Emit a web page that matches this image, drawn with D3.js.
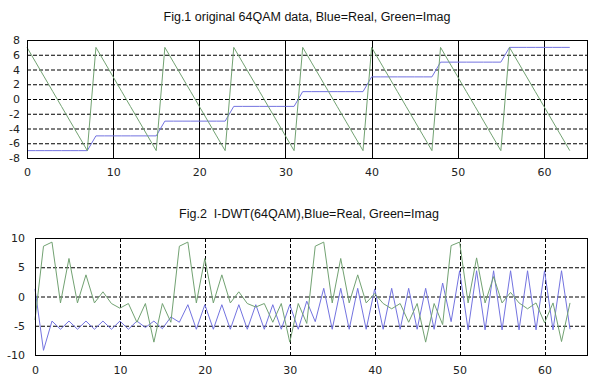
<!DOCTYPE html>
<html>
<head>
<meta charset="utf-8">
<script src="https://cdn.jsdelivr.net/npm/d3@7"></script>
<style>
body { margin: 0; background: #fff; }
</style>
</head>
<body>
<div id="chart"></div>
<script>
// data
var idx = d3.range(64);

var realQam = [-7,-7,-7,-7,-7,-7,-7,-7, -5,-5,-5,-5,-5,-5,-5,-5,
               -3,-3,-3,-3,-3,-3,-3,-3, -1,-1,-1,-1,-1,-1,-1,-1,
                1, 1, 1, 1, 1, 1, 1, 1,  3, 3, 3, 3, 3, 3, 3, 3,
                5, 5, 5, 5, 5, 5, 5, 5,  7, 7, 7, 7, 7, 7, 7, 7];
var imagQam = [7,5,3,1,-1,-3,-5,-7, 7,5,3,1,-1,-3,-5,-7,
               7,5,3,1,-1,-3,-5,-7, 7,5,3,1,-1,-3,-5,-7,
               7,5,3,1,-1,-3,-5,-7, 7,5,3,1,-1,-3,-5,-7,
               7,5,3,1,-1,-3,-5,-7, 7,5,3,1,-1,-3,-5,-7];

var realDwt = [1.3,-9.2,-4.2,-5.6,-4.2,-5.6,-4.2,-5.6,-4.2,-5.6,-4.2,-5.6,-4.2,-5.3,-4.2,-5.5,
               -3.5,-4.4,-1.4,-5.6,-1.4,-5.6,-1.4,-5.6,-1.4,-5.6,-1.4,-5.6,-1.4,-5.6,-1.4,-5.6,
               -0.8,-4.3,1.4,-5.6,1.4,-5.6,1.4,-5.6,1.3,-5.6,1.4,-5.6,1.4,-5.6,1.4,-5.6,
               2.3,-4.3,4.4,-5.7,4.4,-5.7,4.4,-5.7,4.4,-5.7,4.4,-5.7,4.4,-5.7,4.4,-5.6];
var imagDwt = [-4.0,8.6,9.3,-1.1,6.5,-1.1,3.7,-1.1,0.8,-1.2,-2.0,-1.2,-4.4,-1.2,-7.8,-1.2,
               -4.4,8.6,9.3,-1.1,6.5,-1.1,3.7,-1.1,0.8,-1.2,-1.8,-1.2,-4.4,-1.2,-7.8,-1.2,
               -4.6,8.6,9.3,-1.1,6.5,-1.1,3.7,-1.1,0.5,-1.2,-2.1,-1.2,-4.4,-1.2,-7.8,-1.2,
               -4.8,8.7,9.3,-1.1,6.6,-1.1,3.4,-1.1,0.7,-1.1,-2.1,-1.1,-4.5,-1.1,-7.7,-1.1];

var xTicks = [0, 10, 20, 30, 40, 50, 60];
var yTicksTop = [-8, -6, -4, -2, 0, 2, 4, 6, 8];
var yTicksBottom = [-10, -5, 0, 5, 10];

var W = 599, H = 384;
var blue = "#7373e0", green = "#72a272";

var svg = d3.select("#chart").append("svg")
    .attr("width", W)
    .attr("height", H);

function panel(opt) {
    var x = d3.scaleLinear().domain([0, 65]).range([opt.left, opt.right]);
    var y = d3.scaleLinear().domain(opt.yDomain).range([opt.bottom, opt.top]);
    var g = svg.append("g");

    // title
    g.append("text")
        .attr("x", opt.titleX)
        .attr("y", opt.titleY)
        .attr("text-anchor", "middle")
        .attr("font-family", "Liberation Sans, Arial, sans-serif")
        .attr("font-size", "12.5px")
        .attr("fill", "#111")
        .style("white-space", "pre")
        .text(opt.title);

    // horizontal grid
    g.append("g")
        .selectAll("line")
        .data(opt.yTicks.slice(1, -1))
        .join("line")
        .attr("x1", opt.left).attr("x2", opt.right)
        .attr("y1", d => y(d) + 0.5).attr("y2", d => y(d) + 0.5)
        .attr("stroke", "#000")
        .attr("stroke-dasharray", "4,2");

    // vertical grid
    g.append("g")
        .selectAll("line")
        .data(xTicks.slice(1))
        .join("line")
        .attr("x1", d => Math.round(x(d)) + 0.5).attr("x2", d => Math.round(x(d)) + 0.5)
        .attr("y1", opt.top).attr("y2", opt.bottom)
        .attr("stroke", "#000")
        .attr("stroke-dasharray", opt.vDash);

    // series
    var line = d3.line().x((d, i) => x(i)).y(d => y(d));
    opt.series.forEach(function (s) {
        g.append("path")
            .datum(s.values)
            .attr("d", line)
            .attr("fill", "none")
            .attr("stroke", s.color)
            .attr("stroke-width", 1);
    });

    // frame
    g.append("rect")
        .attr("x", opt.left + 0.5).attr("y", opt.top + 0.5)
        .attr("width", opt.right - opt.left).attr("height", opt.bottom - opt.top)
        .attr("fill", "none")
        .attr("stroke", "#000");

    // x axis
    var xa = g.append("g")
        .attr("transform", `translate(0,${opt.bottom})`)
        .call(d3.axisBottom(x).tickValues(xTicks).tickSize(0).tickPadding(opt.xPad));
    xa.select(".domain").remove();
    xa.selectAll("text")
        .attr("font-family", "DejaVu Sans, Verdana, sans-serif")
        .attr("font-size", "11px")
        .attr("fill", "#222");

    // y axis
    var ya = g.append("g")
        .attr("transform", `translate(${opt.left},0)`)
        .call(d3.axisLeft(y).tickValues(opt.yTicks).tickSize(0).tickPadding(opt.yPad)
            .tickFormat(d => String(d)));
    ya.select(".domain").remove();
    ya.selectAll("text")
        .attr("font-family", "DejaVu Sans, Verdana, sans-serif")
        .attr("font-size", "11px")
        .attr("fill", "#222");
}

panel({
    title: "Fig.1 original 64QAM data, Blue=Real, Green=Imag",
    titleX: 307, titleY: 21,
    left: 27, right: 587, top: 40, bottom: 158,
    yDomain: [-8, 8], yTicks: yTicksTop,
    vDash: null, xPad: 10, yPad: 7,
    series: [{values: realQam, color: blue}, {values: imagQam, color: green}]
});

panel({
    title: "Fig.2  I-DWT(64QAM),Blue=Real, Green=Imag",
    titleX: 309, titleY: 218,
    left: 35, right: 587, top: 238, bottom: 355,
    yDomain: [-10, 10], yTicks: yTicksBottom,
    vDash: "4,2", xPad: 11, yPad: 10,
    series: [{values: realDwt, color: blue}, {values: imagDwt, color: green}]
});
</script>
</body>
</html>
